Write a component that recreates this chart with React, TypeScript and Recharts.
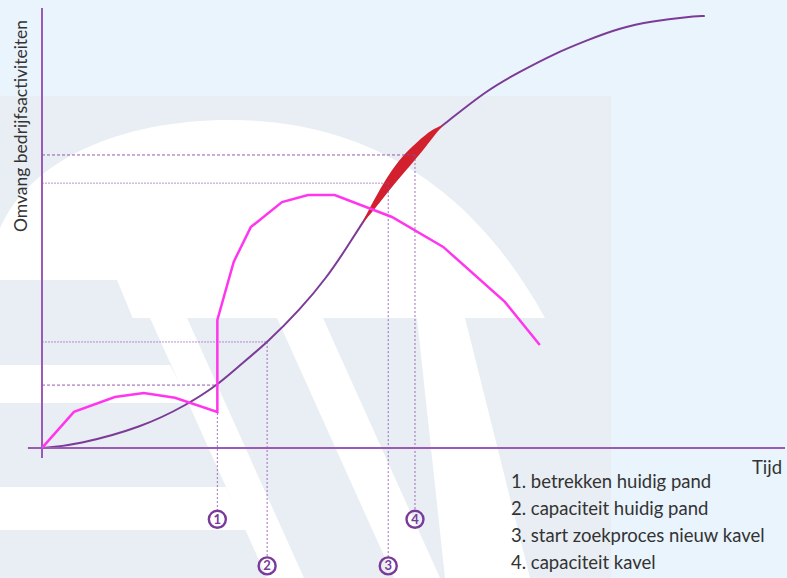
import { ComposedChart, Line, Area, XAxis, YAxis, ReferenceLine, ReferenceDot } from "recharts";

// Tijd (0-100) en omvang bedrijfsactiviteiten (0-100)
const growthTime = [0, 4.7, 13.6, 19.5, 23.6, 26.2, 30.4, 34.7, 38.4, 41.0, 43.1, 46.6, 49.9, 52.6, 54.0, 59.9, 64.3, 68.8, 73.4, 77.8, 82.2, 86.8, 89.2];
const growthSize = [0, 0.7, 4.8, 9.8, 14.3, 18.2, 24.1, 31.4, 38.9, 45.5, 51.1, 60.2, 67.0, 71.6, 73.4, 81.4, 85.5, 89.5, 92.7, 95.5, 97.0, 98.0, 98.2];

const usageTime = [0, 4.3, 9.8, 13.7, 17.9, 23.6, 23.6, 25.8, 28.1, 32.3, 35.8, 39.4, 47.1, 54.0, 62.3, 67.0];
const usageSize = [0, 8.2, 11.6, 12.5, 11.4, 8.2, 29.1, 42.3, 50.2, 55.9, 57.5, 57.5, 52.5, 45.7, 33.2, 23.4];

const gapTime = [43.1, 44.5, 46.6, 48.5, 50.5, 52.6, 54.0];
const gapLow = [51.1, 53.7, 58.3, 62.2, 66.0, 70.6, 73.4];
const gapHigh = [51.1, 55.9, 62.1, 66.4, 69.6, 72.6, 73.4];

const markerTime = [23.6, 30.3, 46.6, 50.2];
const markerLevel = [14.3, 24.1, 60.2, 66.6];
const markerLabels = ["1", "2", "3", "4"];

const legendItems = [
  "1. betrekken huidig pand",
  "2. capaciteit huidig pand",
  "3. start zoekproces nieuw kavel",
  "4. capaciteit kavel",
];

const growthData = growthTime.map((x, i) => ({ x, y: growthSize[i] }));
const usageData = usageTime.map((x, i) => ({ x, y: usageSize[i] }));
const gapData = gapTime.map((x, i) => ({ x, range: [gapLow[i], gapHigh[i]] }));

const AXIS = "#9a5bb8";
const PURPLE = "#7b3b97";
const MAGENTA = "#ff36ee";
const RED = "#d3202e";
const GUIDE = "#8a4aa8";
const FONT = "Lato, 'Open Sans', sans-serif";

// rij onder de as waar het genummerde rondje staat (boven/onder)
const badgeRow = [-16.2, -26.8, -26.8, -16.2];

function Badge(props: any) {
  const { cx, cy, label } = props;
  return (
    <g>
      <circle cx={cx} cy={cy} r={8.5} fill="none" stroke="#7a3a99" strokeWidth={2.4} />
      <text x={cx} y={cy + 4.5} textAnchor="middle" fontSize={13} fontWeight="bold" fill="#7a3a99" fontFamily={FONT}>
        {label}
      </text>
    </g>
  );
}

function Watermark() {
  return (
    <svg width={787} height={578} style={{ position: "absolute", left: 0, top: 0 }}>
      <rect x={0} y={96} width={611} height={482} fill="#e8eef3" />
      <path d="M0,228 C30,160 120,120 230,120 C380,120 480,200 545,318 L0,318 Z" fill="#ffffff" />
      <path d="M0,280 L117,280 L152,365 L0,365 Z" fill="#e8eef3" />
      <path d="M150,318 L187,318 L304,578 L267,578 Z" fill="#ffffff" />
      <path d="M0,365 L170,365 L190,403 L0,403 Z" fill="#ffffff" />
      <path d="M0,487 L226,487 L246,530 L0,530 Z" fill="#ffffff" />
      <path d="M277,318 L323,318 L440,578 L394,578 Z" fill="#ffffff" />
      <path d="M417,318 L465,318 L530,578 L445,578 Z" fill="#ffffff" />
    </svg>
  );
}

function Labels() {
  return (
    <svg width={787} height={578} style={{ position: "absolute", left: 0, top: 0, pointerEvents: "none" }}>
      <text transform="translate(27,126) rotate(-90)" textAnchor="middle" fontSize={17.5} fill="#333" fontFamily={FONT}>
        Omvang bedrijfsactiviteiten
      </text>
      <text x={752} y={474} fontSize={18.5} fill="#333" fontFamily={FONT}>
        Tijd
      </text>
      {legendItems.map((t, i) => (
        <text key={t} x={511} y={488 + i * 27} fontSize={18.5} fill="#333" fontFamily={FONT}>
          {t}
        </text>
      ))}
    </svg>
  );
}

export default function App() {
  return (
    <div style={{ position: "absolute", left: 0, top: 0, width: 787, height: 578, background: "#eaf4fd", overflow: "hidden" }}>
      <Watermark />
      <div style={{ position: "absolute", left: 0, top: 0 }}>
        <ComposedChart width={787} height={578} margin={{ top: 8, right: 2, bottom: 130, left: 42 }}>
          <XAxis dataKey="x" type="number" domain={[0, 100]} hide allowDataOverflow />
          <YAxis type="number" domain={[0, 100]} hide allowDataOverflow />

          {markerTime.map((x, i) => (
            <ReferenceLine
              key={"h" + i}
              segment={[{ x: 0, y: markerLevel[i] }, { x, y: markerLevel[i] }]}
              stroke={GUIDE}
              strokeWidth={1}
              strokeDasharray={i % 3 === 0 ? "3 2" : "2 1"}
              strokeOpacity={i % 3 === 0 ? 0.9 : 0.6}
              ifOverflow="visible"
            />
          ))}
          {markerTime.map((x, i) => (
            <ReferenceLine
              key={"v" + i}
              segment={[{ x, y: markerLevel[i] }, { x, y: badgeRow[i] + 2 }]}
              stroke={GUIDE}
              strokeWidth={1}
              strokeDasharray="2 2"
              strokeOpacity={0.8}
              ifOverflow="visible"
            />
          ))}

          <ReferenceLine segment={[{ x: -1.9, y: 0 }, { x: 100, y: 0 }]} stroke={AXIS} strokeWidth={2} ifOverflow="visible" />
          <ReferenceLine segment={[{ x: 0, y: -2.3 }, { x: 0, y: 100 }]} stroke={AXIS} strokeWidth={2} ifOverflow="visible" />

          {/* groeicurve als Area zonder vulling, zodat de rode lens er bovenop komt */}
          <Area data={growthData} dataKey="y" type="basis" stroke={PURPLE} strokeWidth={2} fill="none" isAnimationActive={false} />
          <Area data={gapData} dataKey="range" type="basis" stroke="none" fill={RED} fillOpacity={1} isAnimationActive={false} />
          <Line data={usageData} dataKey="y" type="linear" stroke={MAGENTA} strokeWidth={2.5} dot={false} isAnimationActive={false} />

          {markerTime.map((x, i) => (
            <ReferenceDot
              key={"b" + i}
              x={x}
              y={badgeRow[i]}
              r={8}
              ifOverflow="visible"
              shape={(p: any) => <Badge {...p} label={markerLabels[i]} />}
            />
          ))}
        </ComposedChart>
      </div>
      <Labels />
    </div>
  );
}
